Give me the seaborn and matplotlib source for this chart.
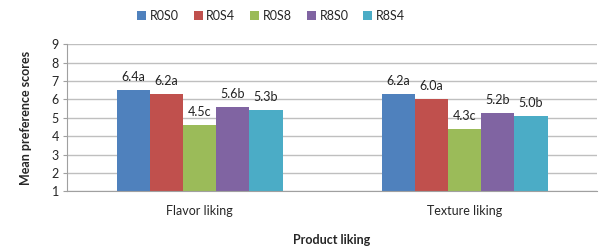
import pandas as pd
import seaborn as sns
import matplotlib.pyplot as plt

# values
categories = ['Flavor liking', 'Texture liking']
treatments = ['R0S0', 'R0S4', 'R0S8', 'R8S0', 'R8S4']
flavor = [6.5, 6.3, 4.6, 5.6, 5.4]
texture = [6.3, 6.0, 4.4, 5.25, 5.1]
flavor_labels = ['6.4a', '6.2a', '4.5c', '5.6b', '5.3b']
texture_labels = ['6.2a', '6.0a', '4.3c', '5.2b', '5.0b']
colors = ['#4F81BD', '#C0504D', '#9BBB59', '#8064A2', '#4BACC6']

df = pd.DataFrame({
    'liking': [categories[0]] * 5 + [categories[1]] * 5,
    'treatment': treatments * 2,
    'score': flavor + texture,
})

sns.set_style('white')
plt.rcParams['font.family'] = ['Lato', 'DejaVu Sans']

fig = plt.figure(figsize=(6, 2.5), dpi=100)
ax = fig.add_axes([0.112, 0.235, 0.883, 0.588])

sns.barplot(data=df, x='liking', y='score', hue='treatment', palette=colors,
            width=0.627, gap=0, saturation=1, linewidth=0, ax=ax, legend=True)

for cont, i in zip(ax.containers, range(5)):
    ax.bar_label(cont, labels=[flavor_labels[i], texture_labels[i]],
                 padding=5, fontsize=9, color='#222222')

ax.set_ylim(1, 9)
ax.set_yticks(range(1, 10))
ax.set_xlim(-0.5, 1.5)
ax.yaxis.grid(True, color='#BFBFBF', linewidth=1)
ax.set_axisbelow(True)
for s in ['top', 'right']:
    ax.spines[s].set_visible(False)
ax.spines['left'].set_color('#A0A0A0')
ax.spines['bottom'].set_color('#A0A0A0')
ax.tick_params(axis='y', which='major', left=True, length=3, color='#A0A0A0',
               labelsize=9, pad=3)
ax.tick_params(axis='x', length=0, labelsize=9, pad=10)

ax.set_xlabel('Product liking', fontsize=9, fontweight='bold', labelpad=12)
ax.set_ylabel('Mean preference scores', fontsize=9, fontweight='bold', labelpad=14)

ax.legend(loc='center', bbox_to_anchor=(0.452, 0.936), bbox_transform=fig.transFigure,
          ncol=5, frameon=False, fontsize=9, handlelength=0.7, handleheight=0.7,
          handletextpad=0.3, columnspacing=1.2)

fig.savefig('out.png', dpi=100)
